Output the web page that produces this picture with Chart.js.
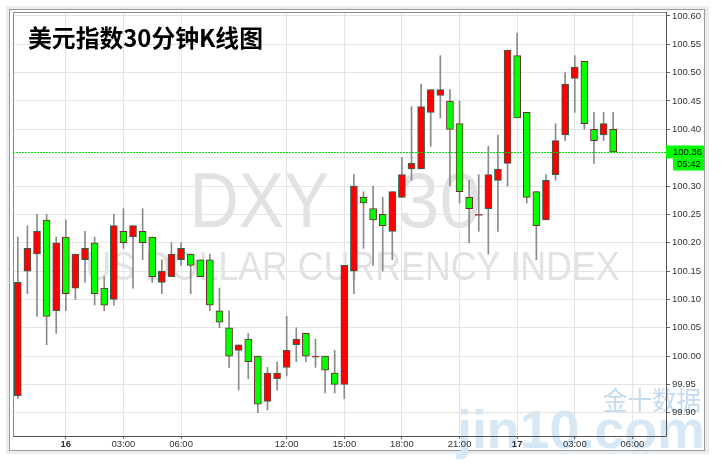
<!DOCTYPE html>
<html><head><meta charset="utf-8">
<script src="https://cdn.jsdelivr.net/npm/chart.js@4.4.1/dist/chart.umd.min.js"></script>
<style>html,body{margin:0;padding:0;background:#fff;overflow:hidden}canvas{display:block}</style>
</head><body>
<canvas id="c" width="721" height="466"></canvas>
<script>
const chartTitle = '美元指数30分钟K线图';
const categories = [
 '15 21:30','15 22:00','15 22:30','15 23:00','15 23:30',
 '16 00:00','16 00:30','16 01:00','16 01:30','16 02:00','16 02:30',
 '16 03:00','16 03:30','16 04:00','16 04:30','16 05:00','16 05:30',
 '16 06:00','16 06:30','16 07:00','16 07:30','16 08:00','16 08:30',
 '16 09:30','16 10:00','16 10:30','16 11:00','16 11:30',
 '16 12:00','16 12:30','16 13:00','16 13:30','16 14:00','16 14:30',
 '16 15:00','16 15:30','16 16:00','16 16:30','16 17:00','16 17:30',
 '16 18:00','16 18:30','16 19:00','16 19:30','16 20:00','16 20:30',
 '16 21:00','16 21:30','16 22:00','16 22:30','16 23:00','16 23:30',
 '17 00:00','17 00:30','17 01:00','17 01:30','17 02:00','17 02:30',
 '17 03:00','17 03:30','17 04:00','17 04:30','17 05:00','17 05:30',
 '17 06:00','17 06:30','17 07:00','17 07:30'
];
const openV = [
 99.93,100.15,100.18,100.24,100.08,100.21,100.12,100.17,100.20,100.12,
 100.10,100.22,100.21,100.22,100.21,100.13,100.14,100.17,100.18,100.17,
 100.17,100.08,100.05,100.01,100.03,100.00,99.92,99.96,99.98,100.02,
 100.04,99.998,100.00,99.97,99.95,100.15,100.28,100.26,100.25,100.22,
 100.28,100.33,100.33,100.43,100.46,100.45,100.41,100.28,100.248,100.26,
 100.31,100.34,100.53,100.43,100.29,100.24,100.32,100.39,100.49,100.52,
 100.40,100.39,100.40
];
const highV = [
 100.21,100.23,100.25,100.25,100.21,100.24,100.18,100.22,100.21,100.14,
 100.25,100.26,100.23,100.26,100.21,100.17,100.20,100.20,100.18,100.17,
 100.18,100.12,100.08,100.02,100.04,100.00,99.98,99.99,100.07,100.05,
 100.04,100.03,100.00,100.01,100.16,100.32,100.29,100.30,100.28,100.29,
 100.35,100.44,100.48,100.47,100.53,100.47,100.45,100.31,100.32,100.37,
 100.39,100.54,100.57,100.43,100.29,100.32,100.41,100.50,100.53,100.52,
 100.43,100.43,100.43
];
const lowV = [
 99.925,100.11,100.07,100.02,100.04,100.08,100.10,100.13,100.09,100.08,
 100.09,100.19,100.12,100.17,100.13,100.11,100.14,100.16,100.11,100.14,
 100.08,100.05,99.98,99.94,99.96,99.90,99.905,99.94,99.965,99.99,
 99.99,99.98,99.935,99.935,99.925,100.11,100.19,100.16,100.15,100.17,
 100.28,100.31,100.33,100.37,100.42,100.30,100.27,100.20,100.22,100.18,
 100.22,100.30,100.42,100.27,100.17,100.24,100.31,100.38,100.43,100.40,
 100.34,100.38,100.36
];
const closeV = [
 100.13,100.19,100.22,100.07,100.20,100.11,100.18,100.19,100.11,100.09,
 100.23,100.20,100.23,100.20,100.14,100.15,100.18,100.19,100.16,100.14,
 100.09,100.06,100.00,100.02,99.99,99.915,99.97,99.97,100.01,100.03,
 100.00,100.00,99.975,99.95,100.16,100.30,100.27,100.24,100.23,100.29,
 100.32,100.34,100.44,100.47,100.47,100.40,100.29,100.26,100.25,100.32,
 100.33,100.54,100.42,100.28,100.23,100.31,100.38,100.48,100.51,100.41,
 100.38,100.41,100.36
];
const yTicks = [99.90,99.95,100.00,100.05,100.10,100.15,100.20,100.25,100.30,100.35,100.40,100.45,100.50,100.55,100.60];
const tickAt = ['16 00:00','16 03:00','16 06:00','16 12:00','16 15:00','16 18:00','16 21:00','17 00:00','17 03:00','17 06:00'];
const tickText = ['16','03:00','06:00','12:00','15:00','18:00','21:00','17','03:00','06:00'];
const dayTicks = ['16','17'];
const lastPrice = 100.36;
const lastTime = '05:42';
const watermarkBig = ['DXY', '30'];
const watermarkSub = 'US DOLLAR CURRENCY INDEX';
const brandCn = '金十数据';
const brandEn = 'jin10.com';

const UP = '#ff0000', DOWN = '#00ff00';
const UP_BORDER = '#2f6450', DOWN_BORDER = '#6e2a2a';
const n = openV.length;

const bodyData = categories.map((c, i) => i < n ? [openV[i], closeV[i]] : null);
const wickData = categories.map((c, i) => i < n ? [lowV[i], highV[i]] : null);
const isUp = i => i < n && closeV[i] >= openV[i];

function labelFor(i) { const k = tickAt.indexOf(categories[i]); return k >= 0 ? tickText[k] : ''; }

function fitText(ctx, text, font, x0, x1, baseline, color) {
  ctx.save();
  ctx.font = font; ctx.textAlign = 'left'; ctx.textBaseline = 'alphabetic';
  const m = ctx.measureText(text);
  const w = m.actualBoundingBoxLeft + m.actualBoundingBoxRight;
  const sx = (x1 - x0) / w;
  ctx.translate(x0, baseline); ctx.scale(sx, 1);
  ctx.fillStyle = color;
  ctx.fillText(text, m.actualBoundingBoxLeft, 0);
  ctx.restore();
}

const decor = {
  id: 'decor',
  beforeDraw(chart) {
    const ctx = chart.ctx;
    ctx.save();
    ctx.fillStyle = '#ffffff'; ctx.fillRect(0, 0, 721, 466);
    ctx.fillStyle = '#e8edf2'; ctx.fillRect(6, 6, 703, 448);
    ctx.fillStyle = '#ffffff'; ctx.fillRect(9, 9, 696, 442);
    ctx.strokeStyle = '#9a9a9a'; ctx.lineWidth = 1; ctx.strokeRect(9.5, 9.5, 695, 441);
    ctx.restore();
    // watermarks
    fitText(ctx, watermarkBig[0], '77px "Liberation Sans"', 195, 328, 227, '#e2e2e2');
    fitText(ctx, watermarkBig[1], '77px "Liberation Sans"', 400, 478, 227, '#e2e2e2');
    fitText(ctx, watermarkSub, '40px "Liberation Sans"', 88, 619, 280, '#e2e2e2');
    fitText(ctx, brandEn, 'bold 54px "Liberation Sans"', 456, 702, 448, '#d6e7f5');
    fitText(ctx, brandCn, '26px "Noto Sans CJK SC"', 603, 700, 410, '#c4dbef');
  },
  afterDraw(chart) {
    const ctx = chart.ctx, a = chart.chartArea, y = chart.scales.y;
    ctx.save();
    // price line
    const py = Math.round(y.getPixelForValue(lastPrice)) + 0.5;
    ctx.strokeStyle = '#00dd00'; ctx.lineWidth = 1; ctx.setLineDash([2, 1]);
    ctx.beginPath(); ctx.moveTo(a.left, py); ctx.lineTo(a.right, py); ctx.stroke();
    ctx.setLineDash([]);
    // plot border
    ctx.strokeStyle = '#8a8a8a';
    ctx.beginPath(); ctx.moveTo(a.left + 0.5, a.bottom); ctx.lineTo(a.left + 0.5, a.top + 0.5); ctx.lineTo(a.right, a.top + 0.5); ctx.stroke();
    ctx.strokeStyle = '#555555';
    ctx.beginPath(); ctx.moveTo(a.right + 0.5, a.top); ctx.lineTo(a.right + 0.5, a.bottom + 0.5); ctx.lineTo(a.left, a.bottom + 0.5); ctx.stroke();
    // price label
    ctx.fillStyle = '#00ff00';
    ctx.fillRect(a.right, py - 7, 38, 13);
    ctx.fillRect(a.right + 7, py + 6, 31, 12);
    ctx.fillStyle = '#000'; ctx.font = '9.5px "Liberation Sans"'; ctx.textBaseline = 'middle'; ctx.textAlign = 'left';
    ctx.fillText(lastPrice.toFixed(2), a.right + 7, py);
    ctx.fillText(lastTime, a.right + 11, py + 12);
    // title
    ctx.restore();
    fitText(ctx, chartTitle, 'bold 24px "Noto Sans CJK SC"', 28, 262, 47, '#000000');
  }
};

new Chart(document.getElementById('c'), {
  type: 'bar',
  data: {
    labels: categories,
    datasets: [
      {
        label: 'body', data: bodyData, grouped: false, order: 0,
        barThickness: 7, borderWidth: 1, borderSkipped: false,
        backgroundColor: categories.map((c, i) => isUp(i) ? UP : DOWN),
        borderColor: categories.map((c, i) => isUp(i) ? UP_BORDER : DOWN_BORDER)
      },
      {
        label: 'wick', data: wickData, grouped: false, order: 1,
        barThickness: 1, borderWidth: 0, backgroundColor: '#8a8a8a'
      }
    ]
  },
  options: {
    responsive: false, animation: false, devicePixelRatio: 1,
    layout: { padding: { left: 13, top: 12, right: 0, bottom: 0 } },
    plugins: { legend: { display: false }, tooltip: { enabled: false }, title: { display: false } },
    scales: {
      x: {
        offset: true,
        border: { display: false },
        grid: {
          offset: false,
          color: c => labelFor(c.index) ? '#e4e4e4' : 'rgba(0,0,0,0)',
          tickColor: c => labelFor(c.index) ? '#666666' : 'rgba(0,0,0,0)',
          tickLength: 3
        },
        ticks: {
          autoSkip: false, maxRotation: 0, minRotation: 0, padding: 0,
          color: '#333333',
          font: c => ({ family: '"Liberation Sans"', size: 9.5, weight: dayTicks.includes(labelFor(c.index)) ? 'bold' : 'normal' }),
          callback: (v, i) => labelFor(i)
        },
        afterFit: s => { s.height = 30; }
      },
      y: {
        position: 'right', min: 99.859, max: 100.607,
        border: { display: false },
        afterBuildTicks: s => { s.ticks = yTicks.map(v => ({ value: v })); },
        grid: { color: '#e4e4e4', tickColor: '#666666', tickLength: 4 },
        ticks: {
          padding: 2, color: '#333333',
          font: { family: '"Liberation Sans"', size: 9.5 },
          callback: v => Number(v).toFixed(2)
        },
        afterFit: s => { s.width = 55; }
      }
    }
  },
  plugins: [decor]
});
</script>
</body></html>
